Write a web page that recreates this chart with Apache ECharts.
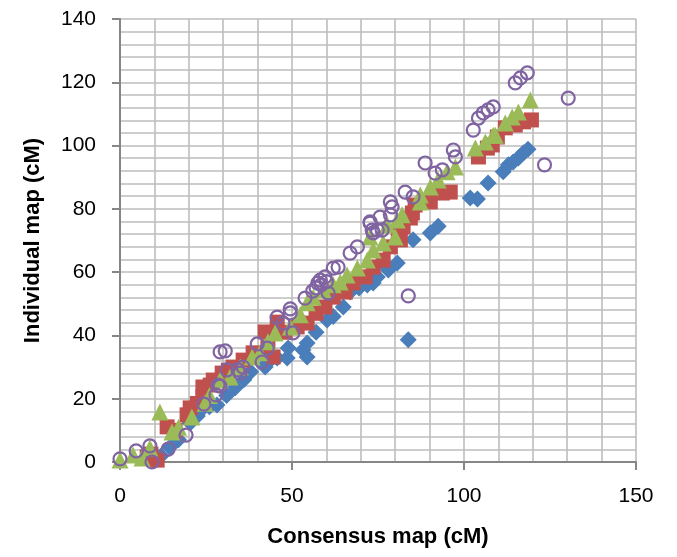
<!DOCTYPE html>
<html><head><meta charset="utf-8">
<script src="https://cdn.jsdelivr.net/npm/echarts@6/dist/echarts.min.js"></script>
<style>html,body{margin:0;padding:0;background:#fff}#c{width:677px;height:557px}</style>
</head><body><div id="c"></div>
<script>
const xTitle = "Consensus map (cM)";
const yTitle = "Individual map (cM)";
const blueData = [[9.6,0.6],[12,2],[14.5,4.7],[17,7],[20.4,12.3],[22.5,14.5],[24.1,17],[26,17.5],[28.2,18],[31,21],[33.5,23.5],[36,26],[38,28.5],[39.9,33.8],[42.2,30],[42.8,31.3],[45.7,32.9],[48.6,32.9],[48.9,36],[53.2,35.4],[54.4,33.2],[54.4,37.6],[57,41],[60.2,44.9],[62,46],[64.9,49],[66.9,53.7],[69.5,55],[71.9,55.9],[73.6,56.6],[74.8,58.5],[77.7,61.6],[78,60.7],[80.6,62.9],[83.8,38.6],[85.2,70.2],[90.2,72.4],[92.5,74.5],[101.8,83.4],[103.9,83.1],[107,88.2],[111.4,91.7],[112.9,93.9],[114.3,94.8],[115.8,96.1],[117.3,97.7],[118.6,98.8]];
const redData = [[7.9,1.6],[10.8,0.6],[9,2.5],[13.7,11.1],[16,10],[19.5,14.9],[20.4,17.1],[22.5,18.5],[24.1,20.5],[24.1,23.7],[26.2,24.3],[27.1,25.9],[29.7,28.1],[31.5,29],[32.9,30],[35.8,32.2],[38.7,34.5],[42.2,41.1],[43,36.3],[44.5,33.2],[45.7,44.2],[48,41],[51.5,42.7],[54.4,43.9],[57,47],[59.6,49],[62,52.1],[65.5,53.7],[67.8,56.6],[71.3,58.5],[73.6,61.6],[76.5,63.8],[78.6,68],[81.5,70.2],[80.9,71.7],[82.3,74.3],[84.4,77.1],[85,78.7],[85.8,81.2],[90.2,82.2],[93.7,85],[96,85.3],[104.2,96.4],[106.8,99.2],[108.2,100.2],[109.7,102.7],[112,105.6],[114.9,106.5],[117.3,107.5],[119.6,108.1]];
const greenData = [[0,0.6],[3.8,2.2],[6.4,1.3],[8.7,4.4],[11.6,15.8],[15.1,9.5],[17,11],[20.9,14.2],[24.7,18.6],[26,21],[29.1,25.9],[32,26.9],[35,30],[38.4,33.2],[40.7,34.5],[43,38],[45.1,40.8],[49.5,42.7],[52.4,46.5],[54.4,50.3],[56.2,52.1],[59.1,54.4],[62,56],[64,56.9],[66,59.1],[69,61.3],[71.9,63.8],[73.6,67],[76.5,69.2],[72.7,71.1],[77.7,74.9],[80.6,76.5],[82,78.1],[80,71.1],[87.3,82.2],[87.3,84.4],[90.2,86.9],[92.5,89.1],[95.1,91.7],[97.5,93.2],[103.3,99.2],[106.2,101.1],[108.5,103.3],[109.1,103.3],[112,107.1],[114,109],[115.8,110.6],[119.3,114.4]];
const purpleData = [[0,1],[4.7,3.5],[8.7,5.1],[9.3,0],[14,4.1],[19.2,8.5],[24.4,18.3],[27.9,21.2],[29.1,24],[28.5,24.3],[29.1,34.8],[30.6,35.1],[31.1,29.1],[34.3,29.1],[35.8,30],[34.9,28.1],[39.9,37.3],[42.8,36],[41.3,31.6],[45.7,45.8],[47.4,43.9],[49.5,47.1],[50.3,40.8],[49.5,48.4],[53.8,51.8],[56,54],[57,55],[57.5,56.5],[58.2,57.5],[58.5,56],[59.6,58.5],[60,57],[60.5,53.4],[62,61.3],[63.4,61.6],[66.9,66],[69,68],[72.7,75.5],[73.6,72.4],[74.8,73.3],[75.6,77.4],[72.7,75.9],[73.3,73.3],[76.2,73.3],[78.6,78.1],[79.1,80.6],[78.6,82.2],[82.9,85.3],[85.2,83.8],[88.7,94.5],[91.6,91.3],[93.7,92.3],[96.9,98.6],[97.5,96.4],[102.7,104.9],[104.2,108.7],[105.6,110.3],[107,111.3],[108.5,112.2],[114.9,119.8],[116.4,121.4],[118.4,123],[130.3,115],[123.4,93.9],[83.8,52.5]];

const chart = echarts.init(document.getElementById('c'), null, {renderer:'canvas'});
const gridColor = '#bdbdbd';
const axisColor = '#868686';
const font = '"Liberation Sans", Arial, sans-serif';
chart.setOption({
  animation:false,
  grid:{left:120, right:41, top:19, bottom:95, containLabel:false},
  xAxis:{type:'value', min:0, max:150, interval:50,
    name:xTitle, nameLocation:'middle', nameGap:64,
    nameTextStyle:{fontFamily:font, fontWeight:'bold', fontSize:22, color:'#000'},
    axisLine:{show:true, onZero:false, lineStyle:{color:axisColor, width:2}},
    axisTick:{show:true, inside:false, length:8, lineStyle:{color:axisColor, width:2}},
    axisLabel:{fontFamily:font, fontSize:21, color:'#000', margin:24},
    splitLine:{show:true, lineStyle:{color:gridColor, width:1.6}},
    minorTick:{show:false, splitNumber:5},
    minorSplitLine:{show:true, lineStyle:{color:gridColor, width:1.6}}
  },
  yAxis:{type:'value', min:0, max:140, interval:20,
    name:yTitle, nameLocation:'middle', nameGap:76, nameRotate:90,
    nameTextStyle:{fontFamily:font, fontWeight:'bold', fontSize:22, color:'#000'},
    axisLine:{show:true, onZero:false, lineStyle:{color:axisColor, width:2}},
    axisTick:{show:true, inside:false, length:8, lineStyle:{color:axisColor, width:2}},
    axisLabel:{fontFamily:font, fontSize:21, color:'#000', margin:24},
    splitLine:{show:true, lineStyle:{color:gridColor, width:1.6}},
    minorTick:{show:false, splitNumber:5},
    minorSplitLine:{show:true, lineStyle:{color:gridColor, width:1.6}}
  },
  series:[
    {type:'scatter', data:blueData, symbol:'diamond', symbolSize:17, itemStyle:{color:'#4a7ebb', opacity:1}},
    {type:'scatter', data:redData, symbol:'rect', symbolSize:15, itemStyle:{color:'#c0504d', opacity:1}},
    {type:'scatter', data:greenData, symbol:'triangle', symbolSize:17, itemStyle:{color:'#9bbb59', opacity:1}},
    {type:'scatter', data:purpleData, symbol:'circle', symbolSize:13, itemStyle:{color:'rgba(0,0,0,0)', borderColor:'#8064a2', borderWidth:2.2, opacity:1}}
  ]
});
</script></body></html>
